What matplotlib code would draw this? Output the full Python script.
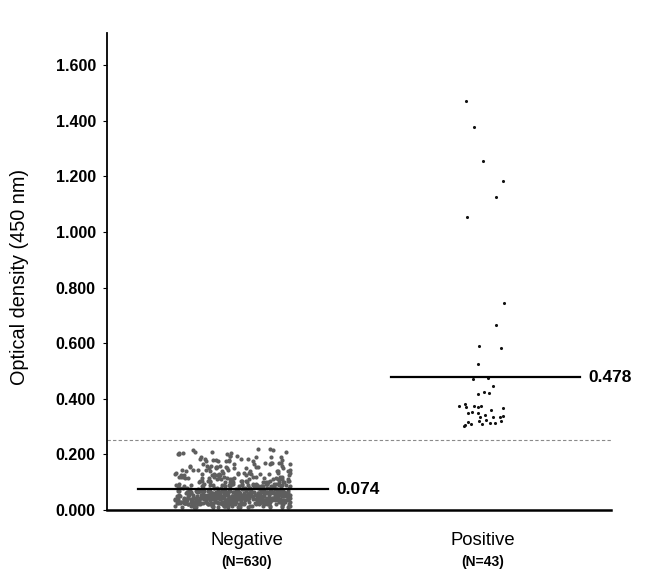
import matplotlib
matplotlib.use("Agg")
import matplotlib.pyplot as plt
import numpy as np

plt.rcParams['font.family'] = ['Liberation Sans', 'DejaVu Sans']

groups = ['Negative', 'Positive']
group_n = ['(N=630)', '(N=43)']
means = [0.074, 0.478]
cutoff = 0.252

neg_levels = [0.010, 0.015, 0.020, 0.025, 0.030, 0.035, 0.040, 0.045, 0.050, 0.055,
              0.060, 0.065, 0.070, 0.075, 0.080, 0.085, 0.090, 0.095, 0.100, 0.105,
              0.110, 0.115, 0.120, 0.125, 0.130, 0.135, 0.140, 0.145, 0.150, 0.155,
              0.160, 0.165, 0.170, 0.175, 0.180, 0.185, 0.190, 0.195, 0.200, 0.205,
              0.210, 0.215, 0.220]
neg_counts = [12, 18, 25, 30, 35, 37, 40, 40, 38, 36,
              32, 28, 25, 22, 20, 17, 15, 13, 12, 11,
              10, 9, 9, 8, 8, 7, 7, 6, 6, 6,
              5, 5, 5, 5, 4, 4, 4, 3, 3, 3,
              3, 2, 2]

pos_values = [1.472, 1.378, 1.257, 1.184, 1.128, 1.056, 0.746, 0.665, 0.589, 0.583,
              0.524, 0.474, 0.471, 0.445, 0.423, 0.422, 0.416, 0.381, 0.375, 0.374,
              0.374, 0.372, 0.372, 0.366, 0.360, 0.354, 0.350, 0.348, 0.343, 0.340,
              0.336, 0.335, 0.333, 0.325, 0.320, 0.320, 0.315, 0.312, 0.312, 0.308,
              0.308, 0.307, 0.303]

neg_values = np.repeat(neg_levels, neg_counts)


def jitter(n, center, half, salt):
    # scattered horizontal offsets from a simple sine hash, same every run
    k = np.arange(n) + salt
    u = (np.sin(k * 12.9898) * 43758.5453) % 1.0
    return center + half * (2 * u - 1)


fig = plt.figure(figsize=(6.6, 5.78), dpi=100)
ax = fig.add_axes([0.162, 0.1176, 0.764, 0.8247])

ax.scatter(jitter(len(neg_values), 0.0, 0.23, 1), neg_values, s=9, color='#5e5e5e',
           linewidths=0, zorder=2)
ax.scatter(jitter(len(pos_values), 0.985, 0.09, 7), pos_values, s=5, color='#111111',
           linewidths=0, zorder=2)

ax.axhline(cutoff, color='#8a8a8a', lw=0.8, ls=(0, (3, 2)), zorder=1)

for i, m in enumerate(means):
    ax.plot([i - 0.375, i + 0.375], [m, m], color='black', lw=1.6, zorder=3)
    ax.text(i + 0.41, m, f'{m:.3f}', fontsize=12.5, fontweight='bold',
            va='center', ha='left')

ax.set_xlim(-0.5, 1.5)
ax.set_ylim(0, 1.715)
ax.set_yticks(np.arange(0, 1.61, 0.2))
ax.set_yticklabels([f'{v:.3f}' for v in np.arange(0, 1.61, 0.2)],
                   fontsize=11.5, fontweight='bold')
ax.tick_params(axis='y', length=3, width=0.8, pad=5)
ax.set_xticks([])

ax.spines['top'].set_visible(False)
ax.spines['right'].set_visible(False)
ax.spines['left'].set_linewidth(1.3)
ax.spines['bottom'].set_linewidth(1.8)

ax.set_ylabel('Optical density (450 nm)', fontsize=14.3)
ax.yaxis.set_label_coords(-0.155, 0.488)

label_x = [0.055, 0.99]
for x, g, n in zip(label_x, groups, group_n):
    ax.text(x, -0.063, g, fontsize=13.3, ha='center', va='center',
            transform=ax.get_xaxis_transform())
    ax.text(x, -0.108, n, fontsize=10, fontweight='bold', ha='center', va='center',
            transform=ax.get_xaxis_transform())

fig.savefig('out.png', dpi=100)
